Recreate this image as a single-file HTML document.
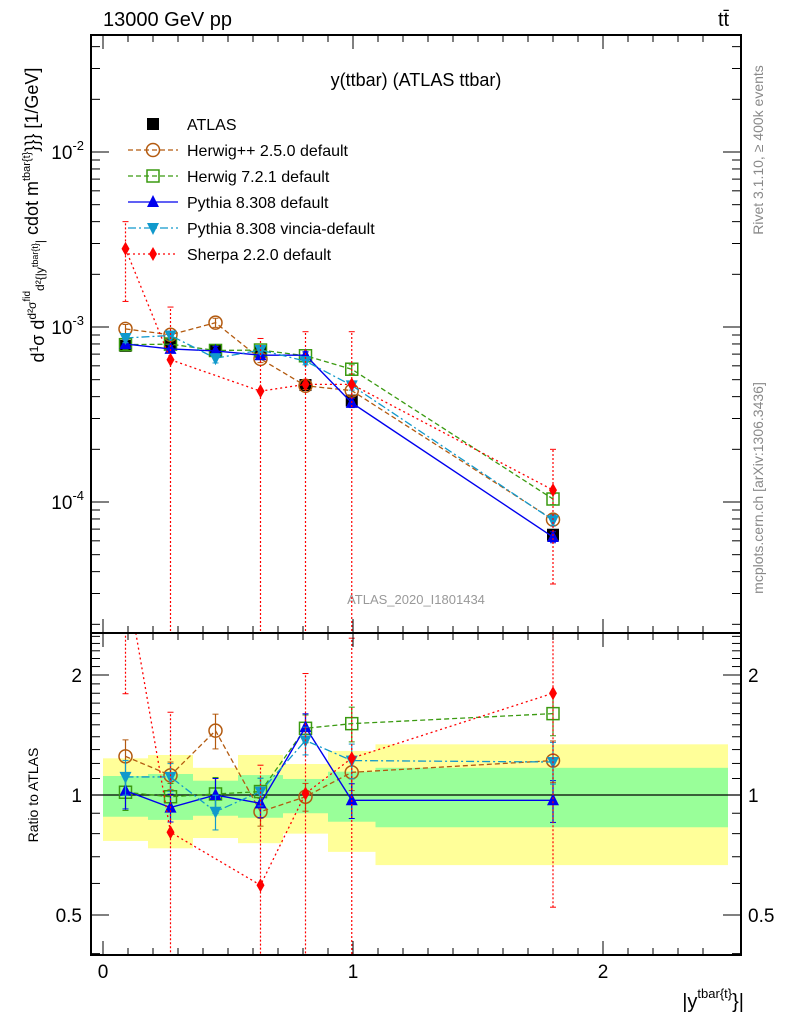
<!DOCTYPE html>
<html><head><meta charset="utf-8"><style>
html,body{margin:0;padding:0;background:#fff;overflow:hidden;}
svg{display:block;font-family:"Liberation Sans",sans-serif;}
</style></head><body>
<svg id="chart" width="786" height="1024" viewBox="0 0 786 1024" xmlns="http://www.w3.org/2000/svg">
<text x="103" y="26" font-size="20">13000 GeV pp</text>
<text x="718" y="26" font-size="20">tt̄</text>
<text x="416" y="86" font-size="18" text-anchor="middle">y(ttbar) (ATLAS ttbar)</text>
<text x="416" y="604" font-size="13" fill="#999" text-anchor="middle">ATLAS_2020_I1801434</text>
<text transform="translate(763,150) rotate(-90)" font-size="14" fill="#888" text-anchor="middle">Rivet 3.1.10, ≥ 400k events</text>
<text transform="translate(763,488) rotate(-90)" font-size="14" fill="#888" text-anchor="middle">mcplots.cern.ch [arXiv:1306.3436]</text>
<text transform="translate(44,215) rotate(-90)" font-size="18" text-anchor="middle">d<tspan font-size="12" dy="-6">1</tspan><tspan dy="6">σ</tspan> d<tspan font-size="12" dy="-8">d²σ</tspan><tspan font-size="10" dy="-6">fid</tspan><tspan dy="14" font-size="12">d²{|y</tspan><tspan font-size="9" dy="-6">tbar{t}</tspan><tspan dy="6" font-size="12">|</tspan><tspan dy="-6"> cdot m</tspan><tspan font-size="11" dy="-8">tbar{t}</tspan><tspan dy="8">}}} [1/GeV]</tspan></text>
<text transform="translate(38,795) rotate(-90)" font-size="14" text-anchor="middle">Ratio to ATLAS</text>
<text x="744" y="1008" font-size="20" text-anchor="end">|y<tspan font-size="13" dy="-10">tbar{t}</tspan><tspan dy="10">}|</tspan></text>
<g id="g"></g>
</svg>
<script>
const xCenters=[0.09,0.27,0.45,0.63,0.81,0.995,1.8];
const binEdges=[0,0.18,0.36,0.54,0.72,0.9,1.09,2.5];
const atlasVals=[7.8e-4,8.06e-4,7.3e-4,7.24e-4,4.66e-4,3.8e-4,6.5e-5];
const atlasRelErr=[0.05,0.06,0.05,0.06,0.05,0.07,0.08];
const bandGreenHi=[1.116,1.129,1.086,1.122,1.097,1.144,1.17];
const bandGreenLo=[0.882,0.866,0.887,0.877,0.90,0.857,0.83];
const bandYellowHi=[1.236,1.26,1.17,1.26,1.196,1.29,1.34];
const bandYellowLo=[0.767,0.735,0.78,0.757,0.80,0.72,0.667];
const herwigppRatio=[1.25,1.12,1.45,0.908,0.99,1.14,1.22];
const herwig7Ratio=[1.016,0.99,1.006,1.02,1.47,1.51,1.60];
const pythiaRatio=[1.025,0.93,1.0,0.953,1.48,0.97,0.97];
const vinciaRatio=[1.11,1.11,0.908,1.02,1.37,1.22,1.21];
const sherpaVals=[2.8e-3,6.5e-4,null,4.3e-4,4.7e-4,4.7e-4,1.17e-4];
const sherpaErrHi=[4.0e-3,1.3e-3,null,8.6e-4,9.4e-4,9.4e-4,2.0e-4];
const sherpaErrLo=[1.4e-3,1e-7,null,1e-7,1e-7,1e-7,3.4e-5];
const mcRelErr=[0.1,0.08,0.1,0.08,0.08,0.1,0.12];
const yTicks=[-2,-3,-4];
const ratioTicks=[2,1,0.5];
const xTicks=[0,1,2];

const NS="http://www.w3.org/2000/svg";
const G=document.getElementById('g');
const L=91,R=741,T=35,M=633,B=955;
const sx=v=>103+250*v;
const sy=v=>152+175*(-2-Math.log10(v));
const sr=v=>795-120*Math.log2(v);
function mk(t,a,p){const e=document.createElementNS(NS,t);for(const k in a)e.setAttribute(k,a[k]);(p||G).appendChild(e);return e;}
const clipT=mk('clipPath',{id:'ct'});mk('rect',{x:L,y:T,width:R-L,height:M-T},clipT);
const clipR=mk('clipPath',{id:'cr'});mk('rect',{x:L,y:M,width:R-L,height:B-M},clipR);
const gT=mk('g',{'clip-path':'url(#ct)'});
const gR=mk('g',{'clip-path':'url(#cr)'});

for(let i=0;i<xCenters.length;i++){
 const x0=sx(binEdges[i]),x1=sx(binEdges[i+1]);
 let r=mk('rect',{x:x0,y:sr(bandYellowHi[i]),width:x1-x0,height:sr(bandYellowLo[i])-sr(bandYellowHi[i]),fill:'#ffff99'},gR);
 
 r=mk('rect',{x:x0,y:sr(bandGreenHi[i]),width:x1-x0,height:sr(bandGreenLo[i])-sr(bandGreenHi[i]),fill:'#99ff99'},gR);
 
}
let ref=mk('line',{x1:L,x2:R,y1:sr(1),y2:sr(1),stroke:'#000','stroke-width':1.3},gR);


function marker(g,type,x,y,c){
 let e;const s=6;
 if(type==='sq')e=mk('rect',{x:x-s,y:y-s,width:2*s,height:2*s,fill:'#000'},g);
 if(type==='osq')e=mk('rect',{x:x-s,y:y-s,width:2*s,height:2*s,fill:'none',stroke:c,'stroke-width':1.5},g);
 if(type==='oc')e=mk('circle',{cx:x,cy:y,r:6.5,fill:'none',stroke:c,'stroke-width':1.5},g);
 if(type==='tu')e=mk('polygon',{points:`${x},${y-7} ${x-6},${y+5} ${x+6},${y+5}`,fill:c},g);
 if(type==='td')e=mk('polygon',{points:`${x},${y+7} ${x-6},${y-5} ${x+6},${y-5}`,fill:c},g);
 if(type==='di')e=mk('polygon',{points:`${x},${y-7} ${x-4},${y} ${x},${y+7} ${x+4},${y}`,fill:c},g);
 
}
const series=[
 {name:'herwigpp',r:herwigppRatio,c:'#b35a0f',dash:'5,3',m:'oc',w:1.3},
 {name:'herwig7',r:herwig7Ratio,c:'#3a9a10',dash:'5,3',m:'osq',w:1.3},
 {name:'pythia',r:pythiaRatio,c:'#0000ee',dash:'',m:'tu',w:1.4},
 {name:'vincia',r:vinciaRatio,c:'#1199cc',dash:'8,3,2,3',m:'td',w:1.3},
];
function drawSeries(g,xs,ys,yl,yh,s,nm){
 const sg=mk('g',{},g);
 let pts=[];
 for(let i=0;i<xs.length;i++){if(ys[i]==null)continue;pts.push(xs[i]+','+ys[i]);}
 const pl=mk('polyline',{points:pts.join(' '),fill:'none',stroke:s.c,'stroke-width':s.w,'stroke-dasharray':s.dash},sg);
 
 for(let i=0;i<xs.length;i++){if(ys[i]==null)continue;
  const eb=mk('line',{x1:xs[i],x2:xs[i],y1:yl[i],y2:yh[i],stroke:s.c,'stroke-width':1.2,'stroke-dasharray':s.m==='di'?'2,2':''},sg);
  
  mk('line',{x1:xs[i]-3,x2:xs[i]+3,y1:yh[i],y2:yh[i],stroke:s.c},sg);
  mk('line',{x1:xs[i]-3,x2:xs[i]+3,y1:yl[i],y2:yl[i],stroke:s.c},sg);
  marker(sg,s.m,xs[i],ys[i],s.c);}
}
const X=xCenters.map(sx);
{const sg=mk('g',{},gT);
 atlasVals.forEach((v,i)=>{mk('line',{x1:X[i],x2:X[i],y1:sy(v*(1+atlasRelErr[i])),y2:sy(v*(1-atlasRelErr[i])),stroke:'#000'},sg);marker(sg,'sq',X[i],sy(v));});}
series.forEach(s=>{
 const v=atlasVals.map((a,i)=>a*s.r[i]);
 drawSeries(gT,X,v.map(sy),v.map((a,i)=>sy(a*(1-mcRelErr[i]*0.6))),v.map((a,i)=>sy(a*(1+mcRelErr[i]*0.6))),s,s.name+'-main');
 drawSeries(gR,X,s.r.map(sr),s.r.map((a,i)=>sr(a*(1-mcRelErr[i]))),s.r.map((a,i)=>sr(a*(1+mcRelErr[i]))),s,s.name+'-ratio');
});
const sh={c:'#ff0000',dash:'2,3',m:'di',w:1.3};
drawSeries(gT,X,sherpaVals.map(v=>v==null?null:sy(v)),sherpaErrLo.map(v=>v==null?null:sy(v)),sherpaErrHi.map(v=>v==null?null:sy(v)),sh,'sherpa-main');
drawSeries(gR,X,sherpaVals.map((v,i)=>v==null?null:sr(v/atlasVals[i])),sherpaErrLo.map((v,i)=>v==null?null:sr(v/atlasVals[i])),sherpaErrHi.map((v,i)=>v==null?null:sr(v/atlasVals[i])),sh,'sherpa-ratio');

for(const [y0,y1,n] of [[T,M,'main-frame'],[M,B,'ratio-frame']]){
 const f=mk('rect',{x:L,y:y0,width:R-L,height:y1-y0,fill:'none',stroke:'#000','stroke-width':2});
 }
for(let v=0;v<=2.5;v+=0.1){const x=sx(v);const maj=Math.abs(v-Math.round(v))<1e-6;const len=maj?14:7;
 for(const [y0,d] of [[T,1],[M,-1],[M,1],[B,-1]]) mk('line',{x1:x,x2:x,y1:y0,y2:y0+d*len,stroke:'#000'});}
xTicks.forEach(v=>{const t=mk('text',{x:sx(v),y:978,'font-size':19,'text-anchor':'middle'});t.textContent=v;
 });
for(let d=-5;d<=-1;d++)for(let k=1;k<10;k++){const v=k*Math.pow(10,d);const y=sy(v);if(y<T||y>M)continue;const len=k===1?18:9;
 mk('line',{x1:L,x2:L+len,y1:y,y2:y,stroke:'#000'});mk('line',{x1:R,x2:R-len,y1:y,y2:y,stroke:'#000'});}
yTicks.forEach(d=>{const t=mk('text',{x:84,y:sy(Math.pow(10,d))+7,'font-size':19,'text-anchor':'end'});
 t.innerHTML='10<tspan font-size="13" dy="-9">'+d+'</tspan>';});
for(let v=0.4;v<=2.6;v+=0.1){const y=sr(v);if(y<M||y>B)continue;const maj=[0.5,1,2].some(m=>Math.abs(m-v)<1e-6);const len=maj?18:9;
 mk('line',{x1:L,x2:L+len,y1:y,y2:y,stroke:'#000'});mk('line',{x1:R,x2:R-len,y1:y,y2:y,stroke:'#000'});}
ratioTicks.forEach(v=>{for(const [x,a] of [[82,'end'],[748,'start']]){const t=mk('text',{x:x,y:sr(v)+7,'font-size':19,'text-anchor':a});t.textContent=v;
 }});
const leg=[['ATLAS','sq','#000',''],['Herwig++ 2.5.0 default','oc','#b35a0f','5,3'],['Herwig 7.2.1 default','osq','#3a9a10','5,3'],['Pythia 8.308 default','tu','#0000ee',''],['Pythia 8.308 vincia-default','td','#1199cc','8,3,2,3'],['Sherpa 2.2.0 default','di','#ff0000','2,3']];
leg.forEach((l,i)=>{const y=124+26*i;const lg=mk('g',{});
 if(i>0)mk('line',{x1:128,x2:178,y1:y,y2:y,stroke:l[2],'stroke-width':1.3,'stroke-dasharray':l[3]},lg);
 marker(lg,l[1],153,y,l[2]);
 const t=mk('text',{x:187,y:y+6,'font-size':16},lg);t.textContent=l[0];});
</script>
</body></html>
